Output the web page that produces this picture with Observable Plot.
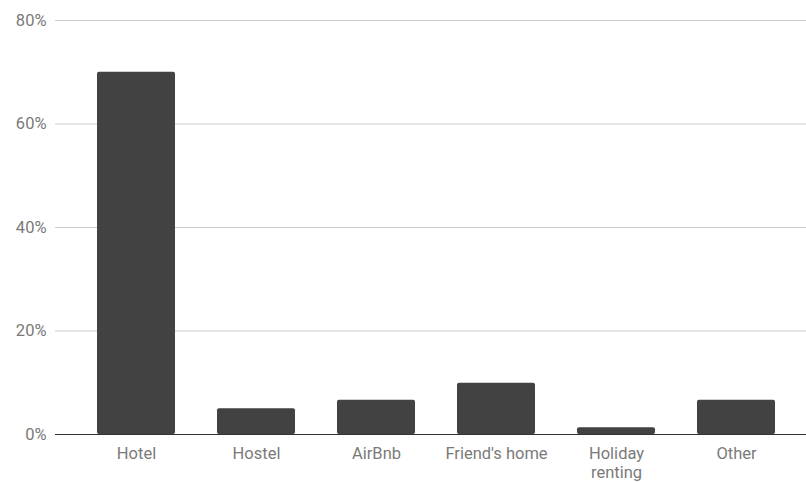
<!DOCTYPE html>
<html>
<head>
<meta charset="utf-8">
<script src="https://cdn.jsdelivr.net/npm/d3@7"></script>
<script src="https://cdn.jsdelivr.net/npm/@observablehq/plot@0.6"></script>
<style>
  html, body { margin: 0; padding: 0; background: #fff; }
  #chart svg { display: block; }
</style>
</head>
<body>
<div id="chart"></div>
<script>
const categories = ["Hotel", "Hostel", "AirBnb", "Friend's home", "Holiday renting", "Other"];
const shares = [70, 5, 6.6, 9.9, 1.3, 6.6];
const yTicks = [0, 20, 40, 60, 80];

const data = categories.map((c, i) => ({category: c, share: shares[i]}));

const chart = Plot.plot({
  width: 806,
  height: 482,
  marginTop: 20,
  marginBottom: 48,
  marginLeft: 55,
  marginRight: 0,
  style: {fontFamily: "Roboto, sans-serif", fontSize: "16.5px", color: "#7a7a7a", background: "#fff"},
  x: {domain: categories, range: [76, 796], paddingInner: 0.35, paddingOuter: 0.175, label: null},
  y: {domain: [0, 80], label: null},
  marks: [
    Plot.ruleY(yTicks.filter(d => d > 0), {stroke: "#cccccc", strokeWidth: 1}),
    Plot.barY(data, {x: "category", y: "share", fill: "#424242", rx: 2}),
    Plot.ruleY([0], {stroke: "#333333", strokeWidth: 1.2}),
    Plot.axisY({ticks: yTicks, tickSize: 0, tickPadding: 9, tickFormat: d => d + "%", fill: "#7a7a7a", fontSize: 16.5}),
    Plot.axisX({tickSize: 0, tickPadding: 10, tickFormat: d => d === "Holiday renting" ? "Holiday\nrenting" : d, fill: "#7a7a7a", fontSize: 16.5, lineHeight: 1.2})
  ]
});
document.getElementById("chart").appendChild(chart);
</script>
</body>
</html>
